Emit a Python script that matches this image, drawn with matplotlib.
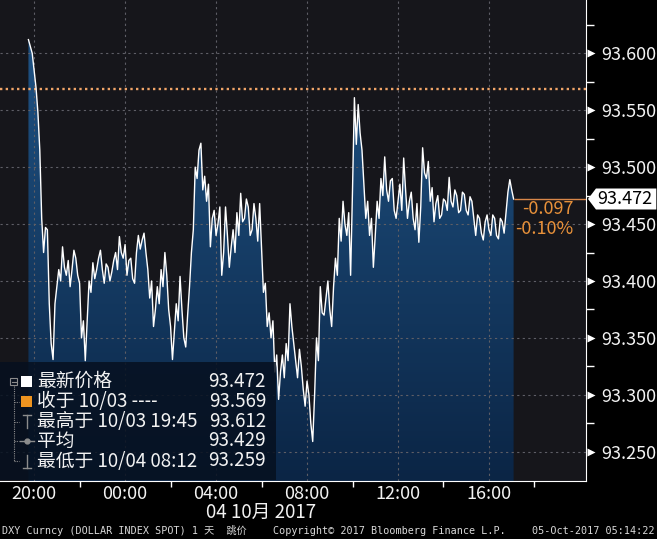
import matplotlib
matplotlib.use("Agg")
import matplotlib.pyplot as plt
import matplotlib.dates as mdates
from matplotlib.colors import LinearSegmentedColormap
from matplotlib.lines import Line2D
from matplotlib.patches import Polygon, Rectangle
import numpy as np
import pandas as pd

plt.rcParams["font.family"] = ["Noto Sans CJK SC", "DejaVu Sans"]

# DXY, precios cada 5 min desde 2017-10-03 19:45
inicio = "2017-10-03 19:45"
precios = [
    93.612, 93.606, 93.600, 93.585, 93.570, 93.548, 93.515, 93.455, 93.425, 93.447,
    93.445, 93.380, 93.345, 93.331, 93.380, 93.395, 93.410, 93.400, 93.430, 93.412,
    93.405, 93.418, 93.395, 93.410, 93.427, 93.420, 93.405, 93.398, 93.350, 93.365,
    93.330, 93.365, 93.400, 93.390, 93.416, 93.402, 93.410, 93.420, 93.427, 93.410,
    93.398, 93.415, 93.412, 93.400, 93.408, 93.418, 93.425, 93.410, 93.439, 93.425,
    93.420, 93.432, 93.405, 93.418, 93.420, 93.402, 93.398, 93.425, 93.440, 93.428,
    93.436, 93.442, 93.425, 93.410, 93.385, 93.400, 93.360, 93.375, 93.395, 93.380,
    93.410, 93.395, 93.425, 93.405, 93.375, 93.360, 93.331, 93.355, 93.380, 93.365,
    93.404, 93.375, 93.350, 93.342, 93.370, 93.395, 93.425, 93.445, 93.500, 93.490,
    93.515, 93.521, 93.480, 93.492, 93.470, 93.485, 93.430, 93.455, 93.462, 93.440,
    93.450, 93.465, 93.405, 93.425, 93.465, 93.440, 93.412, 93.430, 93.445, 93.425,
    93.460, 93.440, 93.477, 93.452, 93.455, 93.472, 93.465, 93.440, 93.445, 93.468,
    93.455, 93.435, 93.468, 93.430, 93.390, 93.398, 93.360, 93.372, 93.350, 93.365,
    93.320, 93.335, 93.296, 93.320, 93.335, 93.315, 93.345, 93.330, 93.380, 93.360,
    93.345, 93.330, 93.315, 93.340, 93.325, 93.305, 93.290, 93.312, 93.300, 93.275,
    93.259, 93.300, 93.350, 93.330, 93.395, 93.372, 93.370, 93.385, 93.400, 93.375,
    93.360, 93.395, 93.420, 93.405, 93.455, 93.435, 93.470, 93.450, 93.440, 93.460,
    93.405, 93.480, 93.561, 93.520, 93.555, 93.530, 93.515, 93.485, 93.455, 93.470,
    93.440, 93.455, 93.412, 93.440, 93.470, 93.455, 93.490, 93.475, 93.509, 93.480,
    93.470, 93.488, 93.490, 93.462, 93.455, 93.470, 93.485, 93.462, 93.508, 93.480,
    93.455, 93.470, 93.478, 93.455, 93.445, 93.468, 93.434, 93.465, 93.517, 93.495,
    93.490, 93.505, 93.470, 93.482, 93.452, 93.468, 93.475, 93.455, 93.458, 93.472,
    93.470, 93.462, 93.491, 93.470, 93.465, 93.480, 93.475, 93.460, 93.462, 93.478,
    93.476, 93.462, 93.458, 93.474, 93.470, 93.455, 93.440, 93.458, 93.455, 93.442,
    93.436, 93.452, 93.458, 93.445, 93.440, 93.458, 93.455, 93.440, 93.437, 93.455,
    93.452, 93.442, 93.460, 93.478, 93.489, 93.480, 93.472,
]
cierre_prev = 93.569
ultimo = 93.472
cambio = "-0.097"
cambio_pct = "-0.10%"

ley_textos = ["最新价格", "收于 10/03 ----", "最高于 10/03 19:45", "平均", "最低于 10/04 08:12"]
ley_valores = [93.472, 93.569, 93.612, 93.429, 93.259]

yticks = [93.25, 93.30, 93.35, 93.40, 93.45, 93.50, 93.55, 93.60]
yticks_men = [93.275, 93.325, 93.375, 93.425, 93.475, 93.525, 93.575, 93.625]
xticks = ["2017-10-03 20:00", "2017-10-04 00:00", "2017-10-04 04:00",
          "2017-10-04 08:00", "2017-10-04 12:00", "2017-10-04 16:00"]
xticks_men = ["2017-10-03 22:00", "2017-10-04 02:00", "2017-10-04 06:00",
              "2017-10-04 10:00", "2017-10-04 14:00", "2017-10-04 18:00"]
fecha = "04 10月 2017"
pie_izq = "DXY Curncy (DOLLAR INDEX SPOT) 1 天  跳价"
pie_centro = "Copyright© 2017 Bloomberg Finance L.P."
pie_der = "05-Oct-2017 05:14:22"

W, H = 657, 539
BLANCO = "#f2f2f2"
NARANJA = "#e8913a"

fig = plt.figure(figsize=(W / 100, H / 100), dpi=100)
fig.patch.set_facecolor("black")
ax = fig.add_axes([0, 58 / H, 586 / W, 481 / H])
ax.set_facecolor("#16161b")

t = pd.date_range(inicio, periods=len(precios), freq="5min")
xn = mdates.date2num(t.to_pydatetime())
x0 = mdates.date2num(pd.Timestamp("2017-10-03 18:30"))
x1 = mdates.date2num(pd.Timestamp("2017-10-04 20:16"))
y0, y1 = 93.2243, 93.6468

# relleno con degradado bajo la línea
poly = Polygon(np.c_[np.r_[xn[0], xn, xn[-1]], np.r_[y0, precios, y0]],
               closed=True, fc="none", ec="none")
ax.add_patch(poly)
cmap = LinearSegmentedColormap.from_list("f", ["#0b2545", "#1f5283"])
im = ax.imshow(np.linspace(0, 1, 256).reshape(-1, 1), cmap=cmap, origin="lower",
               aspect="auto", extent=[xn[0], xn[-1], y0, max(precios)], zorder=1)
im.set_clip_path(poly)

# rejilla punteada
for v in yticks:
    ax.axhline(v, color="#5e5e66", lw=0.8, ls=(0, (2, 3)), zorder=1.5)
for d in xticks:
    ax.axvline(mdates.date2num(pd.Timestamp(d)), color="#5e5e66", lw=0.8,
               ls=(0, (2, 3)), zorder=1.5)

ax.axhline(cierre_prev, color="#f0a468", lw=1.7, ls=(0, (1, 1.4)), zorder=2)
ax.plot(xn, precios, color="white", lw=1.0, zorder=3)
ax.hlines(ultimo, xn[-1], x1, color="#d9874a", lw=1, zorder=3)

ax.set_xlim(x0, x1)
ax.set_ylim(y0, y1)

for s in ("top", "left"):
    ax.spines[s].set_visible(False)
for s in ("right", "bottom"):
    ax.spines[s].set_color("white")
    ax.spines[s].set_zorder(6)

# eje y a la derecha con triángulos
ax.yaxis.tick_right()
ax.set_yticks(yticks)
ax.set_yticklabels([f"{v:.3f}" for v in yticks])
ax.set_yticks(yticks_men, minor=True)
ax.tick_params(axis="y", which="major", length=0, pad=11, labelsize=13,
               labelcolor=BLANCO)
ax.tick_params(axis="y", which="minor", length=6, width=1, color="white",
               direction="out")
ytr = ax.get_yaxis_transform()
for v in yticks:
    ax.plot(1.0085, v, marker=">", ms=6, color="white", mec="none",
            transform=ytr, clip_on=False)

# eje x
ax.set_xticks([mdates.date2num(pd.Timestamp(d)) for d in xticks])
ax.set_xticks([mdates.date2num(pd.Timestamp(d)) for d in xticks_men], minor=True)
ax.xaxis.set_major_formatter(mdates.DateFormatter("%H:%M"))
ax.tick_params(axis="x", which="major", length=0, pad=3, labelsize=13,
               labelcolor=BLANCO)
ax.tick_params(axis="x", which="minor", length=4, width=1, color="white",
               direction="out")
fig.text(261 / W, 1 - 512 / H, fecha, ha="center", va="center", color=BLANCO,
         fontsize=13.5)

# etiqueta del último precio
h = 10.5 / 1138
ax.add_patch(Polygon([(1.0034, ultimo), (1.017, ultimo + h), (1.12, ultimo + h),
                      (1.12, ultimo - h), (1.017, ultimo - h)], closed=True,
                     fc="white", ec="none", transform=ytr, clip_on=False, zorder=7))
ax.text(1.0188, ultimo, f"{ultimo:.3f}", transform=ytr, ha="left", va="center",
        color="black", fontsize=13, zorder=8)
ax.text(0.979, 0.5665, cambio, transform=ax.transAxes, ha="right", va="center",
        color=NARANJA, fontsize=13)
ax.text(0.979, 0.5239, cambio_pct, transform=ax.transAxes, ha="right",
        va="center", color=NARANJA, fontsize=13)

# caja de leyenda
ax.add_patch(Rectangle((0, 0.002), 276 / 586, (481 - 363) / 481,
                       transform=ax.transAxes, fc="#06101f", alpha=0.85,
                       ec="none", zorder=4))


def P(x, y):
    return x / W, 1 - y / H


def linea(xs, ys, **kw):
    fig.add_artist(Line2D([x / W for x in xs], [1 - y / H for y in ys],
                          transform=fig.transFigure, **kw))


filas = [381.5, 401.5, 421.5, 441, 461]
for yy, txt, val in zip(filas, ley_textos, ley_valores):
    fig.text(*P(37, yy), txt, ha="left", va="center", color=BLANCO, fontsize=13.5)
    fig.text(*P(266, yy), f"{val:.3f}", ha="right", va="center", color=BLANCO,
             fontsize=13.5)

gris = "#8c8c8c"
fig.add_artist(Rectangle(P(21, 387), 11 / W, 11 / H, transform=fig.transFigure,
                         fc="white", ec="none"))
fig.add_artist(Rectangle(P(21, 407), 11 / W, 11 / H, transform=fig.transFigure,
                         fc="#ee9420", ec="none"))
linea([27, 27], [415, 428], color=gris, lw=1)
linea([23, 31], [415, 415], color=gris, lw=1)
linea([20, 34], [441, 441], color=gris, lw=1)
linea([27], [441], color=gris, marker="o", ms=3.5, lw=0)
linea([27, 27], [455, 468], color=gris, lw=1)
linea([23, 31], [468, 468], color=gris, lw=1)
# árbol
fig.add_artist(Rectangle(P(10, 385), 7 / W, 7 / H, transform=fig.transFigure,
                         fc="none", ec=gris, lw=0.8))
linea([11.5, 15.5], [381.5, 381.5], color=gris, lw=0.8)
linea([13.5, 13.5], [386, 461], color=gris, lw=0.8, ls=(0, (1, 1)))
for yy in filas[1:]:
    linea([13.5, 19], [yy, yy], color=gris, lw=0.8, ls=(0, (1, 1)))

# pie
mono = ["DejaVu Sans Mono", "Noto Sans CJK SC"]
fig.text(*P(2, 531), pie_izq, ha="left", va="center", color="#d8d8d8",
         fontsize=7.3, family=mono)
fig.text(*P(389, 531), pie_centro, ha="center", va="center", color="#d8d8d8",
         fontsize=7.3, family=mono)
fig.text(*P(655, 531), pie_der, ha="right", va="center", color="#d8d8d8",
         fontsize=7.3, family=mono)

fig.savefig("out.png", dpi=100, facecolor="black")
